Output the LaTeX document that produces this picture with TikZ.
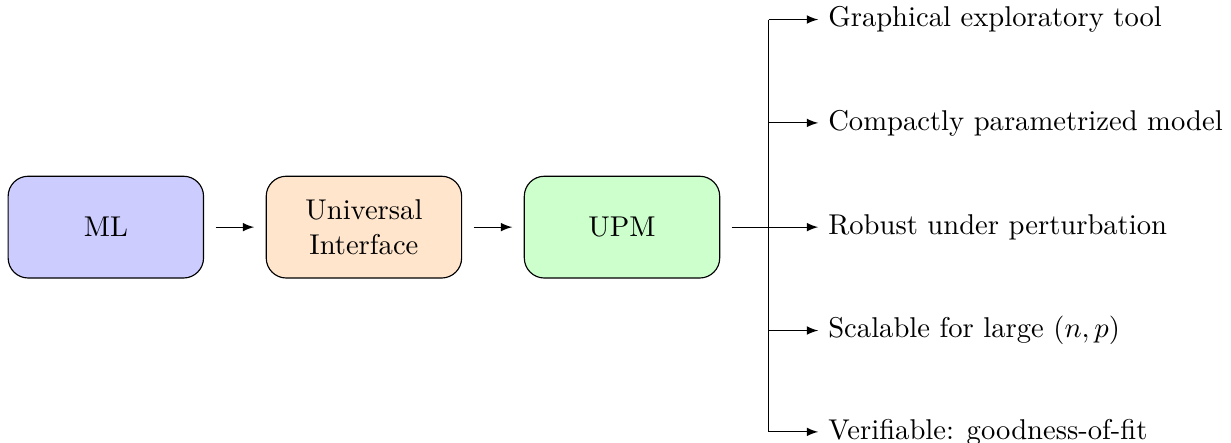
\documentclass[tikz,border=0pt]{standalone}
\usetikzlibrary{positioning}
\begin{document}
\begin{tikzpicture}[>=latex]
\tikzset{blk/.style={draw, rounded corners=7pt, minimum width=2.4cm, minimum height=1.25cm, align=center}}
\useasboundingbox (0,0) rectangle (15.12,5.44);

\node(ML)[blk, fill=blue!20] at (1.30,2.65) {ML};
\node(UI)[blk, fill=orange!20] at (4.47,2.65) {Universal\\Interface};
\node(UPM)[blk, fill=green!20] at (7.64,2.65) {UPM};

\node(P1)[right] at (10.05,5.20) {Graphical exploratory tool};
\node(P2)[right] at (10.05,3.93) {Compactly parametrized model};
\node(P3)[right] at (10.05,2.65) {Robust under perturbation};
\node(P4)[right] at (10.05,1.38) {Scalable for large $(n,p)$};
\node(P5)[right] at (10.05,0.135) {Verifiable: goodness-of-fit};

\coordinate(Btop) at (9.44,5.20);
\coordinate(Bbot) at (9.44,0.135);

\draw (ML.east) edge[->, shorten <=4pt, shorten >=4pt] (UI.west);
\draw (UI.east) edge[->, shorten <=4pt, shorten >=4pt] (UPM.west);
\draw[shorten <=4pt] (UPM.east) -- (Btop |- UPM.east);
\draw (Btop) -- (Bbot);
\foreach \p in {P1,P2,P3,P4,P5}
  \draw[->] (Btop |- \p.west) -- (\p.west);
\end{tikzpicture}
\end{document}
